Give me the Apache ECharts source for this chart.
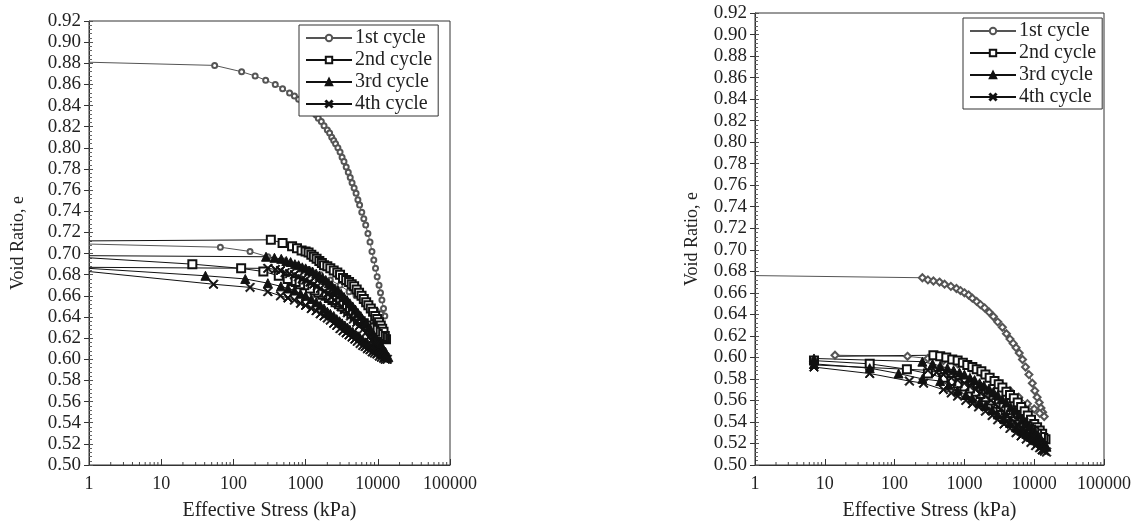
<!DOCTYPE html>
<html>
<head>
<meta charset="utf-8">
<script src="https://cdn.jsdelivr.net/npm/echarts@6/dist/echarts.min.js"></script>
<style>
html,body{margin:0;padding:0;background:#fff;}
#chart{width:1134px;height:526px;}
</style>
</head>
<body>
<div id="chart"></div>
<script>
// ---------- DATA ----------
const seriesNames = ['1st cycle', '2nd cycle', '3rd cycle', '4th cycle'];
const yTickMin = 0.50, yTickMax = 0.92, yTickStep = 0.02;
const xMin = 1, xMax = 100000;

// Left chart: [stress kPa, void ratio]; loading then unloading
const left1 = [[1,0.881],[55,0.878],[130,0.872],[200,0.868],[280,0.864],[380,0.860],[480,0.856],[600,0.852],[700,0.849],[800,0.846],[900,0.843],[1000,0.841],[1100,0.838],[1200,0.836],[1300,0.833],[1400,0.831],[1500,0.828],[1650,0.825],[1800,0.821],[2000,0.817],[2150,0.814],[2300,0.810],[2450,0.807],[2600,0.804],[2800,0.800],[3000,0.796],[3200,0.791],[3400,0.787],[3650,0.782],[3900,0.777],[4150,0.772],[4400,0.767],[4700,0.762],[5000,0.757],[5300,0.751],[5600,0.746],[6000,0.739],[6400,0.733],[6800,0.727],[7300,0.719],[7800,0.711],[8300,0.702],[8800,0.694],[9300,0.686],[9800,0.678],[10400,0.670],[10900,0.663],[11400,0.656],[12000,0.648],[12500,0.641],
  [11000,0.643],[9500,0.646],[8000,0.650],[6500,0.654],[5000,0.660],[4000,0.664],[3000,0.670],[2200,0.675],[1600,0.680],[1100,0.685],[750,0.689],[500,0.693],[300,0.697],[170,0.702],[66,0.706],[1,0.709]];
const left2 = [[1,0.712],[330,0.713],[480,0.710],[650,0.707],[760,0.705],[880,0.703],[1000,0.702],[1100,0.701],[1200,0.699],[1300,0.697],[1420,0.695],[1550,0.693],[1680,0.691],[1800,0.689],[2000,0.688],[2200,0.686],[2450,0.684],[2750,0.682],[3000,0.680],[3300,0.677],[3650,0.675],[4000,0.673],[4350,0.671],[4700,0.669],[5100,0.666],[5500,0.663],[5950,0.660],[6400,0.657],[6900,0.654],[7400,0.651],[8000,0.648],[8600,0.645],[9200,0.641],[9800,0.638],[10400,0.635],[11000,0.632],[11500,0.629],[12000,0.626],[12500,0.622],[13000,0.619],
  [12200,0.620],[11500,0.621],[10700,0.622],[10000,0.624],[9200,0.626],[8500,0.628],[7700,0.630],[7000,0.632],[6400,0.634],[5800,0.636],[5300,0.638],[4800,0.641],[4300,0.643],[3900,0.646],[3500,0.648],[3200,0.650],[2900,0.652],[2600,0.654],[2350,0.656],[2100,0.658],[1900,0.660],[1700,0.661],[1500,0.663],[1330,0.665],[1150,0.667],[960,0.670],[840,0.671],[730,0.673],[640,0.674],[565,0.676],[425,0.679],[260,0.683],[128,0.686],[27,0.690],[1,0.696]];
const left3 = [[1,0.698],[283,0.697],[370,0.696],[460,0.695],[540,0.693],[620,0.692],[710,0.690],[800,0.689],[900,0.687],[1000,0.686],[1120,0.684],[1250,0.683],[1400,0.681],[1550,0.679],[1720,0.677],[1900,0.675],[2100,0.672],[2300,0.670],[2550,0.667],[2800,0.665],[3100,0.662],[3400,0.659],[3750,0.656],[4100,0.653],[4500,0.650],[4900,0.647],[5300,0.644],[5800,0.641],[6300,0.637],[6900,0.634],[7500,0.630],[8100,0.627],[8800,0.623],[9500,0.620],[10200,0.616],[11000,0.613],[11900,0.610],[12800,0.607],[14000,0.602],
  [13200,0.603],[12500,0.604],[11700,0.605],[11000,0.606],[10200,0.608],[9500,0.609],[8900,0.610],[8300,0.612],[7700,0.613],[7200,0.615],[6700,0.616],[6200,0.618],[5700,0.620],[5300,0.622],[4900,0.624],[4500,0.626],[4100,0.628],[3800,0.630],[3500,0.632],[3200,0.634],[2950,0.636],[2700,0.638],[2450,0.641],[2200,0.643],[2000,0.645],[1800,0.648],[1600,0.651],[1400,0.654],[1200,0.657],[1000,0.660],[850,0.662],[700,0.665],[570,0.667],[455,0.669],[300,0.672],[146,0.676],[41,0.679],[1,0.686]];
const left4 = [[1,0.687],[300,0.686],[380,0.685],[450,0.684],[520,0.682],[600,0.681],[700,0.680],[800,0.678],[900,0.676],[1000,0.675],[1150,0.673],[1300,0.671],[1450,0.669],[1600,0.667],[1800,0.664],[2000,0.662],[2250,0.659],[2500,0.656],[2800,0.653],[3100,0.650],[3450,0.647],[3800,0.644],[4200,0.641],[4600,0.638],[5100,0.635],[5600,0.632],[6200,0.628],[6800,0.625],[7500,0.621],[8200,0.618],[9000,0.614],[9800,0.611],[10600,0.608],[11500,0.605],[12500,0.602],[13500,0.600],
  [12700,0.600],[12000,0.601],[11200,0.602],[10500,0.603],[9700,0.605],[9000,0.606],[8400,0.607],[7800,0.609],[7200,0.610],[6700,0.612],[6200,0.613],[5700,0.615],[5200,0.617],[4800,0.619],[4400,0.621],[4000,0.623],[3650,0.625],[3300,0.627],[3000,0.629],[2700,0.632],[2450,0.634],[2200,0.637],[2000,0.639],[1800,0.641],[1600,0.643],[1400,0.646],[1200,0.648],[1000,0.651],[850,0.653],[700,0.656],[570,0.658],[450,0.660],[300,0.664],[170,0.668],[53,0.671],[1,0.683]];

// Right chart
const right1 = [[1,0.676],[250,0.674],[300,0.672],[360,0.671],[440,0.670],[520,0.668],[640,0.666],[770,0.664],[880,0.662],[1000,0.660],[1150,0.658],[1300,0.655],[1500,0.652],[1700,0.649],[1950,0.646],[2270,0.642],[2600,0.638],[3000,0.633],[3500,0.628],[4000,0.622],[4500,0.617],[5000,0.613],[5500,0.609],[6100,0.604],[6800,0.598],[7500,0.591],[8400,0.584],[9400,0.576],[10200,0.569],[11000,0.563],[11800,0.558],[12500,0.553],[13200,0.549],[13900,0.545],
  [12000,0.548],[10000,0.552],[8000,0.557],[6000,0.563],[4500,0.569],[3300,0.575],[2400,0.581],[1700,0.586],[1200,0.590],[800,0.594],[500,0.597],[300,0.599],[153,0.601],[14,0.602]];
const right2 = [[14,0.601],[360,0.602],[450,0.601],[550,0.600],[670,0.598],[800,0.597],[950,0.595],[1100,0.593],[1300,0.591],[1500,0.589],[1750,0.587],[2000,0.584],[2300,0.581],[2700,0.578],[3100,0.575],[3500,0.572],[4000,0.568],[4500,0.565],[5100,0.562],[5800,0.558],[6500,0.554],[7300,0.550],[8100,0.546],[9000,0.542],[10000,0.538],[11000,0.535],[12000,0.532],[13000,0.529],[14500,0.524],
  [13500,0.525],[12500,0.526],[11000,0.529],[10000,0.531],[9000,0.533],[8000,0.536],[7000,0.539],[6000,0.542],[5200,0.545],[4500,0.548],[3900,0.551],[3300,0.554],[2800,0.557],[2400,0.560],[2000,0.563],[1700,0.566],[1450,0.568],[1200,0.571],[1000,0.573],[800,0.576],[650,0.578],[500,0.581],[300,0.585],[150,0.589],[44,0.594],[7,0.597]];
const right3 = [[7,0.599],[250,0.596],[350,0.594],[450,0.592],[570,0.590],[700,0.588],[850,0.586],[1000,0.584],[1200,0.581],[1400,0.579],[1650,0.576],[1900,0.574],[2250,0.571],[2600,0.568],[3000,0.565],[3500,0.561],[4000,0.558],[4600,0.554],[5300,0.551],[6000,0.547],[6800,0.543],[7600,0.540],[8500,0.536],[9500,0.533],[10500,0.530],[11500,0.527],[12500,0.524],[13500,0.521],[15000,0.517],
  [14000,0.518],[13000,0.519],[12000,0.521],[10500,0.523],[9000,0.526],[7700,0.529],[6500,0.532],[5500,0.535],[4500,0.539],[3700,0.543],[3000,0.547],[2500,0.551],[2000,0.555],[1650,0.558],[1300,0.562],[1050,0.565],[800,0.569],[600,0.574],[450,0.578],[250,0.580],[114,0.585],[44,0.590],[7,0.594]];
const right4 = [[7,0.593],[300,0.588],[400,0.586],[500,0.584],[650,0.581],[800,0.579],[1000,0.576],[1200,0.573],[1450,0.570],[1700,0.567],[2000,0.564],[2400,0.560],[2800,0.556],[3300,0.552],[3900,0.548],[4500,0.544],[5200,0.540],[6000,0.537],[7000,0.533],[8000,0.529],[9000,0.526],[10000,0.523],[11200,0.520],[12500,0.517],[13700,0.514],[15000,0.512],
  [14000,0.513],[13000,0.514],[12000,0.516],[10500,0.518],[9000,0.521],[7700,0.524],[6500,0.527],[5500,0.530],[4500,0.534],[3700,0.538],[3000,0.542],[2500,0.546],[2000,0.550],[1600,0.554],[1300,0.557],[1050,0.560],[800,0.564],[650,0.567],[500,0.570],[260,0.576],[163,0.578],[44,0.585],[7,0.591]];

// ---------- CHART ----------
const FONT = '"Liberation Serif", "Times New Roman", serif';
const minorTickVals = [];
for (let k = 0; k < 5; k++) for (let m = 2; m <= 9; m++) minorTickVals.push([m * Math.pow(10, k), yTickMin]);

const xSym = 'path://M0,1L1,0L5,4L9,0L10,1L6,5L10,9L9,10L5,6L1,10L0,9L4,5Z';
const grids = [
  {left: 89, top: 21, width: 361, height: 446},
  {left: 755, top: 13, width: 350, height: 457}
];
const yNameGaps = [62, 54];

function xAxisDef(gi) {
  return {
    type: 'log', logBase: 10, min: xMin, max: xMax, gridIndex: gi,
    name: 'Effective Stress (kPa)', nameLocation: 'middle', nameGap: 36,
    nameTextStyle: {fontFamily: FONT, fontSize: 20, color: '#222'},
    axisLine: {lineStyle: {color: '#333', width: 1}},
    axisTick: {inside: true, length: 6, lineStyle: {color: '#333'}},
    minorTick: {show: false},
    splitLine: {show: false},
    axisLabel: {fontFamily: FONT, fontSize: 18, color: '#222', margin: 10,
      formatter: v => String(Math.round(v))}
  };
}
function yAxisMain(gi) {
  return {
    type: 'value', min: yTickMin, max: yTickMax, interval: yTickStep, gridIndex: gi,
    name: 'Void Ratio, e', nameLocation: 'middle', nameGap: yNameGaps[gi],
    nameTextStyle: {fontFamily: FONT, fontSize: 18, color: '#222'},
    axisLine: {lineStyle: {color: '#333', width: 1}},
    axisTick: {inside: false, length: 5, lineStyle: {color: '#333'}},
    splitLine: {show: false},
    axisLabel: {fontFamily: FONT, fontSize: 19, color: '#222', margin: 8,
      formatter: v => v.toFixed(2)}
  };
}
function yAxisMinor(gi) {
  return {
    type: 'value', min: yTickMin, max: yTickMax, interval: yTickStep, gridIndex: gi,
    position: 'left', offset: 0,
    axisLine: {show: false},
    axisTick: {inside: true, length: 4, lineStyle: {color: '#555'}},
    minorTick: {show: true, splitNumber: 5, length: 3, lineStyle: {color: '#666'}},
    splitLine: {show: false},
    axisLabel: {show: false}
  };
}

const styles = [
  {symbol: 'emptyCircle', size: 5, color: '#555', lw: 1},
  {symbol: 'emptyRect', size: 8, color: '#111', lw: 1},
  {symbol: 'triangle', size: 9, color: '#111', lw: 1},
  {symbol: xSym, size: 9, color: '#111', lw: 1}
];
const styles2 = [
  {symbol: 'emptyDiamond', size: 7, color: '#555', lw: 1},
  {symbol: 'emptyRect', size: 8, color: '#111', lw: 1},
  {symbol: 'triangle', size: 9, color: '#111', lw: 1},
  {symbol: xSym, size: 9, color: '#111', lw: 1}
];

function lineSeries(name, data, st, gi, hideFirst) {
  const d = data.map((p, i) => (p[0] <= 1 || (hideFirst && i === 0)) ? {value: p, symbol: 'none'} : p);
  return {
    type: 'line', name: name, data: d,
    xAxisIndex: gi, yAxisIndex: gi * 2,
    symbol: st.symbol, symbolSize: st.size, showAllSymbol: true,
    lineStyle: {color: st.color, width: st.lw},
    itemStyle: {color: st.color, borderColor: st.color, borderWidth: 1},
    emphasis: {disabled: true}, animation: false, z: 3
  };
}
function minorTicks(gi) {
  return {
    type: 'custom', xAxisIndex: gi, yAxisIndex: gi * 2, data: minorTickVals,
    silent: true, animation: false, z: 2,
    renderItem: function (params, api) {
      const p = api.coord([api.value(0), api.value(1)]);
      return {type: 'line', shape: {x1: p[0], y1: p[1], x2: p[0], y2: p[1] - 3},
        style: {stroke: '#444', lineWidth: 1}};
    }
  };
}

const leftData = [left1, left2, left3, left4];
const rightData = [right1, right2, right3, right4];
const series = [];
seriesNames.forEach((n, i) => series.push(lineSeries(n, leftData[i], styles[i], 0, false)));
seriesNames.forEach((n, i) => series.push(lineSeries(n, rightData[i], styles2[i], 1, i === 1)));
series.push(minorTicks(0), minorTicks(1));

const legendCommon = {
  orient: 'vertical', data: seriesNames,
  backgroundColor: '#fff', borderColor: '#333', borderWidth: 1, borderRadius: 0,
  padding: [3, 6, 2, 6], itemGap: 2, itemWidth: 46, itemHeight: 8,
  textStyle: {fontFamily: FONT, fontSize: 20, color: '#222', padding: [0, 0, 0, -2]},
  selectedMode: false
};

const option = {
  backgroundColor: '#fff',
  animation: false,
  grid: grids.map(g => Object.assign({show: true, borderColor: '#333', borderWidth: 1, backgroundColor: 'transparent'}, g)),
  xAxis: [xAxisDef(0), xAxisDef(1)],
  yAxis: [yAxisMain(0), yAxisMinor(0), yAxisMain(1), yAxisMinor(1)],
  legend: [
    Object.assign({left: 299, top: 25}, legendCommon),
    Object.assign({left: 963, top: 18}, legendCommon)
  ],
  series: series
};

const chart = echarts.init(document.getElementById('chart'), null, {renderer: 'canvas'});
chart.setOption(option);
</script>
</body>
</html>
